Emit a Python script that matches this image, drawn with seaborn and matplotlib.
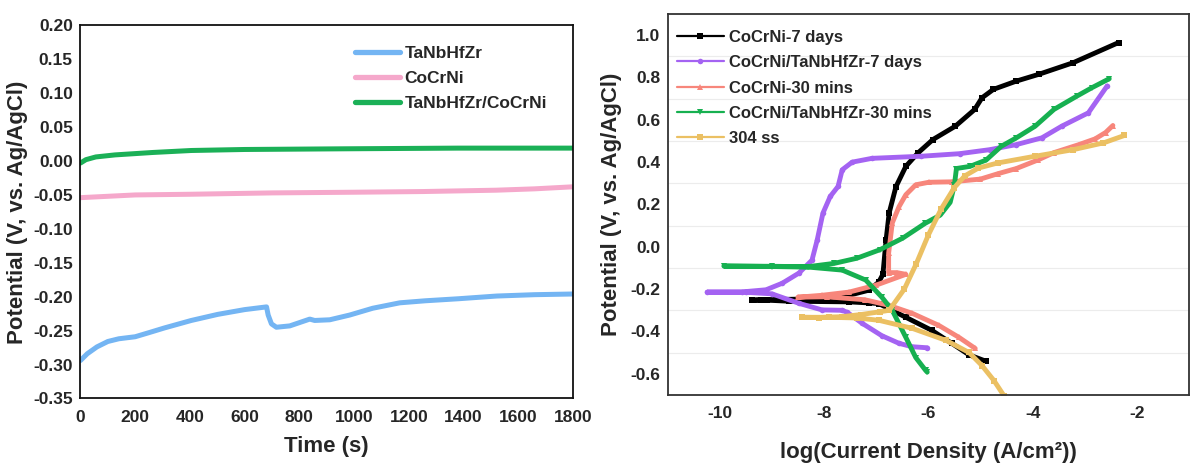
import matplotlib
matplotlib.use("Agg")
import matplotlib.pyplot as plt
import pandas as pd
import seaborn as sns
from matplotlib.lines import Line2D
from matplotlib.ticker import MultipleLocator, FormatStrFormatter

# ---------------- open-circuit potential vs. time ----------------
ocp_names = ["TaNbHfZr", "CoCrNi", "TaNbHfZr/CoCrNi"]
ocp_colors = ["#74b5f3", "#f5a8cb", "#1bb057"]

t_tanbhfzr = [0, 25, 60, 100, 140, 200, 250, 307, 405, 502, 600, 680, 686, 698,
              716, 765, 838, 856, 911, 984, 1068, 1167, 1260, 1381, 1521, 1660, 1800]
e_tanbhfzr = [-0.294, -0.284, -0.274, -0.266, -0.262, -0.259, -0.253, -0.246, -0.235,
              -0.226, -0.219, -0.215, -0.227, -0.240, -0.245, -0.243, -0.233, -0.235,
              -0.234, -0.227, -0.217, -0.209, -0.206, -0.203, -0.199, -0.197, -0.196]

t_cocrni = [0, 100, 200, 400, 700, 1000, 1250, 1520, 1660, 1800]
e_cocrni = [-0.054, -0.052, -0.050, -0.049, -0.047, -0.046, -0.045, -0.043, -0.041, -0.038]

t_coated = [0, 20, 56, 126, 265, 405, 600, 963, 1380, 1800]
e_coated = [-0.003, 0.002, 0.006, 0.009, 0.0126, 0.0155, 0.017, 0.018, 0.019, 0.019]

# ---------------- potentiodynamic polarisation ----------------
pol_names = ["CoCrNi-7 days", "CoCrNi/TaNbHfZr-7 days", "CoCrNi-30 mins",
             "CoCrNi/TaNbHfZr-30 mins", "304 ss"]
pol_colors = ["#000000", "#a463f2", "#f7867b", "#16b050", "#ebc063"]
pol_markers = ["s", "o", "^", "v", "s"]

logi_cocrni_7d = [-4.9, -5.22, -5.55, -5.93, -6.43, -6.95, -7.14, -7.52, -8.67, -9.1, -9.38,
                  -9.2, -8.4, -7.52, -7.14, -6.95, -6.87, -6.81, -6.75, -6.62, -6.43, -6.2,
                  -5.91, -5.48, -5.11, -4.97, -4.75, -4.31, -3.88, -3.22, -2.35]
e_cocrni_7d = [-0.54, -0.51, -0.456, -0.395, -0.333, -0.268, -0.265, -0.26, -0.257, -0.252, -0.252,
               -0.25, -0.247, -0.229, -0.205, -0.167, -0.13, 0.03, 0.16, 0.284, 0.38, 0.443,
               0.507, 0.57, 0.649, 0.704, 0.744, 0.783, 0.815, 0.87, 0.965]

logi_coated_7d = [-6.02, -6.31, -6.56, -6.89, -7.27, -7.55, -7.65, -8.04, -8.48, -9.0, -9.5, -10.24,
                  -9.57, -9.11, -8.8, -8.48, -8.23, -8.13, -8.02, -7.88, -7.73, -7.65, -7.46,
                  -7.08, -6.13, -5.4, -4.82, -4.31, -3.82, -3.44, -2.93, -2.57]
e_coated_7d = [-0.477, -0.472, -0.456, -0.42, -0.361, -0.31, -0.3, -0.298, -0.267, -0.222, -0.215, -0.214,
               -0.213, -0.203, -0.172, -0.124, -0.063, 0.032, 0.159, 0.238, 0.285, 0.364, 0.40,
               0.418, 0.428, 0.44, 0.459, 0.483, 0.515, 0.57, 0.633, 0.76]

logi_cocrni_30m = [-5.1, -5.41, -5.8, -6.31, -6.76, -7.22, -7.95, -8.5,
                   -8.04, -7.52, -7.0, -6.43, -6.6, -6.76, -6.76, -6.69, -6.56, -6.43, -6.24,
                   -5.99, -5.55, -5.0, -4.67, -4.31, -3.9, -3.59, -3.11, -2.8, -2.6, -2.46]
e_cocrni_30m = [-0.48, -0.428, -0.371, -0.314, -0.276, -0.25, -0.236, -0.238,
                -0.229, -0.214, -0.181, -0.13, -0.122, -0.122, -0.03, 0.113, 0.19, 0.246, 0.293,
                0.305, 0.307, 0.32, 0.345, 0.37, 0.41, 0.445, 0.483, 0.51, 0.54, 0.573]

logi_coated_30m = [-6.02, -6.05, -6.24, -6.43, -6.69, -6.89, -7.2, -7.65, -8.29, -9.0, -9.92,
                   -9.0, -8.31, -7.8, -7.37, -6.93, -6.49, -6.06, -5.77, -5.58, -5.5, -5.46,
                   -5.2, -4.89, -4.6, -4.31, -3.95, -3.59, -3.15, -2.86, -2.53]
e_coated_30m = [-0.592, -0.584, -0.523, -0.428, -0.3, -0.238, -0.157, -0.11, -0.096, -0.093, -0.091,
                -0.092, -0.094, -0.078, -0.054, -0.014, 0.041, 0.111, 0.15, 0.21, 0.29, 0.37,
                0.38, 0.41, 0.475, 0.515, 0.57, 0.649, 0.712, 0.752, 0.794]

logi_304ss = [-4.5, -4.55, -4.74, -4.97, -5.22, -5.66, -6.31, -6.95, -7.37, -7.9, -8.42,
              -8.1, -7.66, -7.29, -6.93, -6.75, -6.46, -6.23, -6.0, -5.75, -5.5, -5.3,
              -5.04, -4.67, -3.95, -3.22, -2.64, -2.24]
e_304ss = [-0.72, -0.703, -0.632, -0.561, -0.499, -0.442, -0.385, -0.347, -0.336, -0.333, -0.333,
           -0.334, -0.33, -0.32, -0.307, -0.30, -0.20, -0.08, 0.055, 0.18, 0.28, 0.335,
           0.372, 0.396, 0.428, 0.459, 0.491, 0.526]

ocp_series = [(t_tanbhfzr, e_tanbhfzr), (t_cocrni, e_cocrni), (t_coated, e_coated)]
pol_series = [(logi_cocrni_7d, e_cocrni_7d), (logi_coated_7d, e_coated_7d),
              (logi_cocrni_30m, e_cocrni_30m), (logi_coated_30m, e_coated_30m),
              (logi_304ss, e_304ss)]

# ---------------- style ----------------
sns.set_style("white")
plt.rcParams["font.family"] = ["Liberation Sans", "DejaVu Sans"]
plt.rcParams["font.weight"] = "bold"
plt.rcParams["axes.labelweight"] = "bold"
plt.rcParams["axes.unicode_minus"] = False

fig = plt.figure(figsize=(11.92, 4.74), dpi=100)
ax1 = fig.add_axes([0.0675, 0.1593, 0.4132, 0.7873])
ax2 = fig.add_axes([0.5600, 0.1667, 0.4375, 0.8038])

# ---------------- left panel ----------------
ocp_df = pd.concat(
    [pd.DataFrame({"t": t, "E": e, "sample": name})
     for (t, e), name in zip(ocp_series, ocp_names)],
    ignore_index=True)
sns.lineplot(data=ocp_df, x="t", y="E", hue="sample", hue_order=ocp_names,
             palette=ocp_colors, sort=False, estimator=None, lw=3.6,
             legend=False, ax=ax1)

ax1.set_xlim(0, 1800)
ax1.set_ylim(-0.35, 0.20)
ax1.xaxis.set_major_locator(MultipleLocator(200))
ax1.xaxis.set_minor_locator(MultipleLocator(100))
ax1.yaxis.set_major_locator(MultipleLocator(0.05))
ax1.yaxis.set_minor_locator(MultipleLocator(0.025))
ax1.yaxis.set_major_formatter(FormatStrFormatter("%.2f"))
ax1.tick_params(which="major", direction="in", length=5.5, width=1.2,
                labelsize=12.5)
ax1.tick_params(axis="x", which="major", pad=8)
ax1.tick_params(axis="y", which="major", pad=5.5)
ax1.tick_params(which="minor", direction="in", length=3, width=1.0)
for s in ax1.spines.values():
    s.set_linewidth(1.3)
    s.set_color("#111111")
ax1.set_xlabel("Time (s)", fontsize=16, labelpad=8)
ax1.set_ylabel("Potential (V, vs. Ag/AgCl)", fontsize=16, labelpad=4)

h1 = [Line2D([], [], color=c, lw=3.8, solid_capstyle="round") for c in ocp_colors]
ax1.legend(h1, ocp_names, loc="upper left", bbox_to_anchor=(0.557, 0.946),
           frameon=False, fontsize=12.5, handlelength=2.6, handletextpad=0.25,
           labelspacing=0.58, borderpad=0, borderaxespad=0)

# ---------------- right panel ----------------
for (x, y), name, c, m in zip(pol_series, pol_names, pol_colors, pol_markers):
    sns.lineplot(x=x, y=y, sort=False, estimator=None, color=c, lw=3.5,
                 marker=m, markersize=4.0, markeredgewidth=0, ax=ax2)

ax2.set_xlim(-11, -1)
ax2.set_ylim(-0.7, 1.1)
ax2.xaxis.set_major_locator(MultipleLocator(2))
ax2.xaxis.set_minor_locator(MultipleLocator(1))
ax2.yaxis.set_major_locator(MultipleLocator(0.2))
ax2.yaxis.set_minor_locator(MultipleLocator(0.1))
ax2.xaxis.set_major_formatter(FormatStrFormatter("%d"))
ax2.yaxis.set_major_formatter(FormatStrFormatter("%.1f"))
ax2.yaxis.grid(True, which="minor", color="#ececec", lw=0.8)
ax2.set_axisbelow(True)
ax2.tick_params(which="major", direction="in", length=6, width=1.2,
                labelsize=12.5, color="#333333")
ax2.tick_params(axis="x", which="major", pad=8)
ax2.tick_params(axis="y", which="major", pad=5)
ax2.tick_params(which="minor", direction="in", length=4, width=1.0, color="#333333")
for s in ax2.spines.values():
    s.set_linewidth(1.3)
    s.set_color("#333333")
ax2.set_xlabel("log(Current Density (A/cm²))", fontsize=16, labelpad=15)
ax2.set_ylabel("Potential (V, vs. Ag/AgCl)", fontsize=16, labelpad=6)

h2 = [Line2D([], [], color=c, lw=1.6, marker=m, markersize=4, markeredgewidth=0)
      for c, m in zip(pol_colors, pol_markers)]
ax2.legend(h2, pol_names, loc="upper left", bbox_to_anchor=(0.018, 0.958),
           frameon=False, fontsize=12, handlelength=2.8, handletextpad=0.35,
           labelspacing=0.62, borderpad=0, borderaxespad=0, markerscale=1)

fig.savefig("out.png", dpi=100)
